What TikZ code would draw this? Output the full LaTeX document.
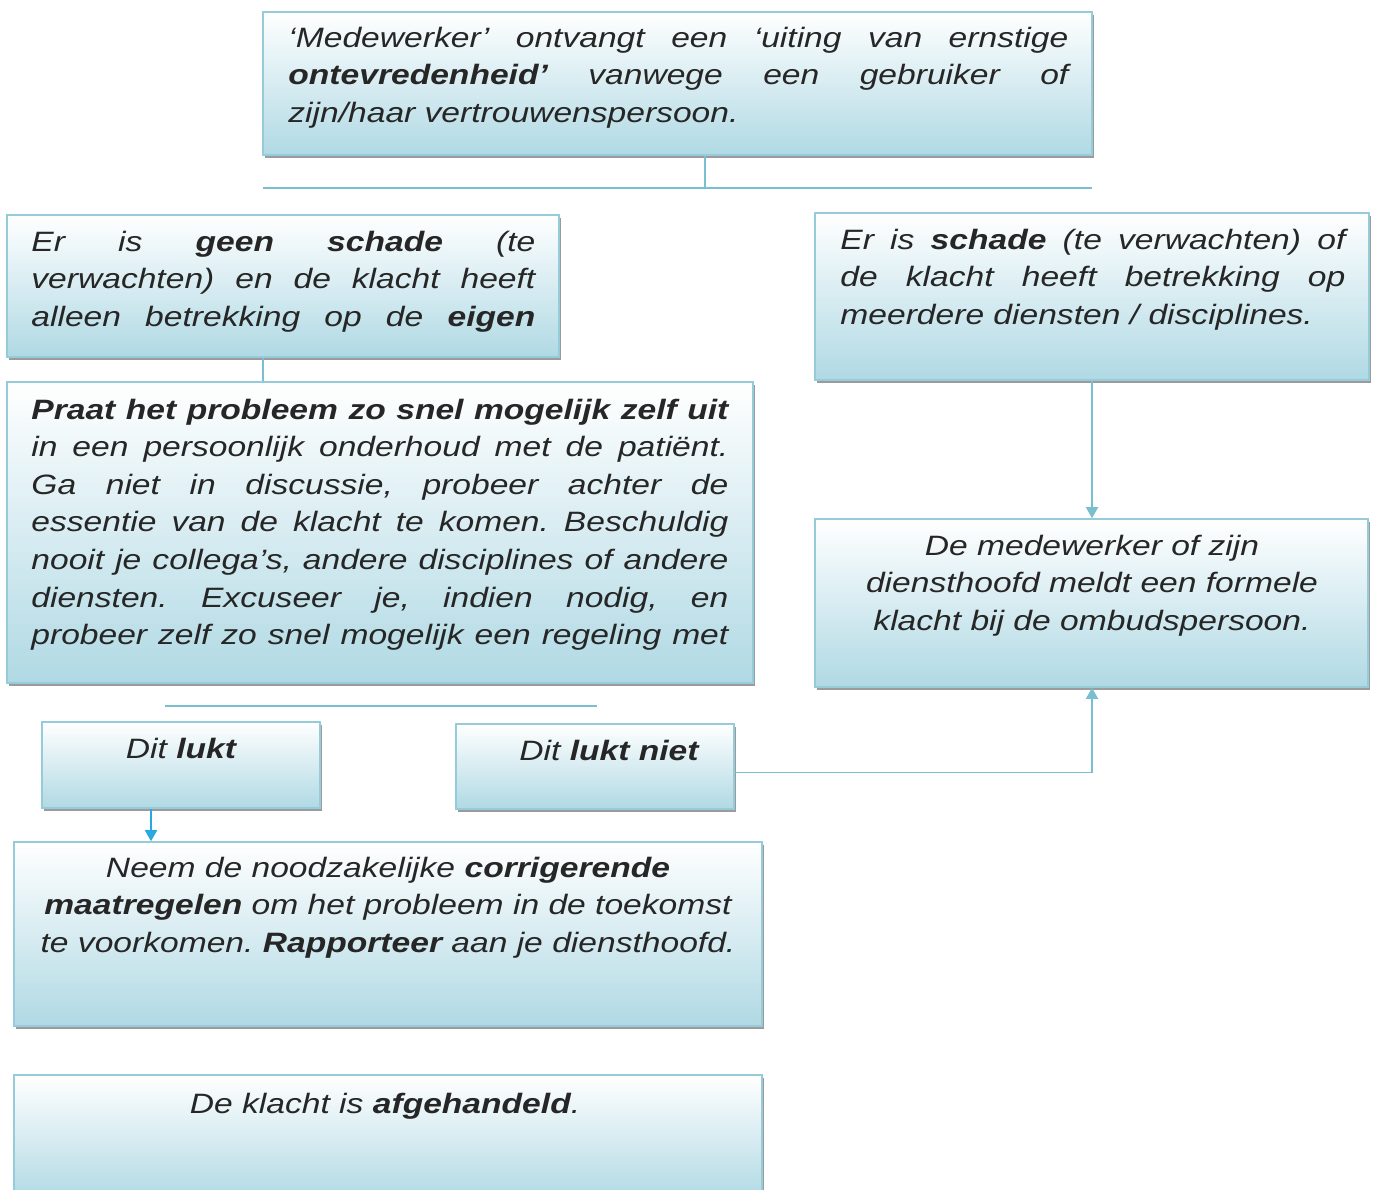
\documentclass[tikz,border=0pt]{standalone}
\usepackage{fontspec}
\newfontfamily\boxfont[FakeStretch=1.2]{Liberation Sans}
\usetikzlibrary{fit,shadows,arrows.meta}
\definecolor{edgeblue}{RGB}{150,203,218}
\definecolor{fillblue}{RGB}{176,217,228}
\definecolor{lineblue}{RGB}{122,190,210}
\definecolor{tipblue}{RGB}{40,170,225}
\tikzset{
  box/.style={draw=edgeblue, line width=0.8pt, top color=white, bottom color=fillblue,
    inner sep=0pt, drop shadow={shadow xshift=1.2pt, shadow yshift=-1.5pt, fill=black!60, opacity=0.65}},
  txt/.style={inner sep=0pt, text=black!85, font=\boxfont\fontsize{14}{18.8}\selectfont\itshape\frenchspacing},
  conn/.style={draw=lineblue, line width=0.9pt},
  arr/.style={conn, -{Triangle[width=6pt,length=5.5pt]}}
}
\begin{document}
\begin{tikzpicture}[x=0.5pt,y=-0.5pt]
  \clip (0,0) rectangle (1376,1189);
  \fill[white] (0,0) rectangle (1376,1189);
  % boxes
  \foreach \n/\xa/\ya/\xb/\yb in {top/263/12/1092/155, noharm/7/215/559/357, harm/815/213/1369/380,
      praat/7/382/753/683, ombuds/815/519/1368/687, lukt/42/722/320/808, luktniet/456/724/734/809,
      neem/14/842/762/1026, klaar/14/1075/762/1200}
    \node[box, fit={(\xa,\ya) (\xb,\yb)}] (\n) {};
  % texts
  \node[txt, text width=390pt, align=justify, anchor=base west] (topt) at (288,47)
    {‘Medewerker’ ontvangt een ‘uiting van ernstige\linebreak
     \textbf{ontevredenheid’} vanwege een gebruiker of\linebreak
     zijn/haar vertrouwenspersoon.};
  \node[txt, text width=252pt, align=justify, anchor=base west] (noharmt) at (31,251)
    {Er is \textbf{geen schade} (te\linebreak
     verwachten) en de klacht heeft\linebreak
     alleen betrekking op de \textbf{eigen}\parfillskip=0pt\par};
  \node[txt, text width=252.5pt, align=justify, anchor=base west] (harmt) at (840,249)
    {Er is \textbf{schade} (te verwachten) of\linebreak
     de klacht heeft betrekking op\linebreak
     meerdere diensten / disciplines.};
  \node[txt, text width=348.5pt, align=justify, anchor=base west] (praatt) at (31,419)
    {\textbf{Praat het probleem zo snel mogelijk zelf uit}\linebreak
     in een persoonlijk onderhoud met de patiënt.\linebreak
     Ga niet in discussie, probeer achter de\linebreak
     essentie van de klacht te komen. Beschuldig\linebreak
     nooit je collega’s, andere disciplines of andere\linebreak
     diensten. Excuseer je, indien nodig, en\linebreak
     probeer zelf zo snel mogelijk een regeling met\parfillskip=0pt\par};
  \node[txt, text width=270pt, align=center, anchor=base] (ombudst) at (1092,555)
    {De medewerker of zijn\\ diensthoofd meldt een formele\\ klacht bij de ombudspersoon.};
  \node[txt, anchor=base] (luktt) at (181,758) {Dit \textbf{lukt}};
  \node[txt, anchor=base] (luktniett) at (609,760) {Dit \textbf{lukt niet}};
  \node[txt, text width=360pt, align=center, anchor=base] (neemt) at (388,877)
    {Neem de noodzakelijke \textbf{corrigerende}\\
     \textbf{maatregelen} om het probleem in de toekomst\\
     te voorkomen. \textbf{Rapporteer} aan je diensthoofd.};
  \node[txt, anchor=base] (klaart) at (385,1113) {De klacht is \textbf{afgehandeld}.};
  % connectors
  \coordinate (split) at (705,188);
  \coordinate (splitL) at (263,188);
  \coordinate (splitR) at (1092,188);
  \coordinate (forkL) at (165,706);
  \coordinate (forkR) at (597,706);
  \draw[conn] (top.south -| split) -- (split);
  \draw[conn] (splitL) -- (splitR);
  \draw[conn] (noharm.south -| splitL) -- (praat.north -| splitL);
  \draw[conn] (forkL) -- (forkR);
  \draw[arr, draw=tipblue, -{Triangle[width=6pt,length=5.5pt,fill=tipblue]}] (lukt.south -| 151,0) -- (neem.north -| 151,0);
  \draw[arr] (harm.south) -- (harm.south |- ombuds.north);
  \draw[arr] ([yshift=-3pt]luktniet.east) -| (harm.south |- ombuds.south);
\end{tikzpicture}
\end{document}
